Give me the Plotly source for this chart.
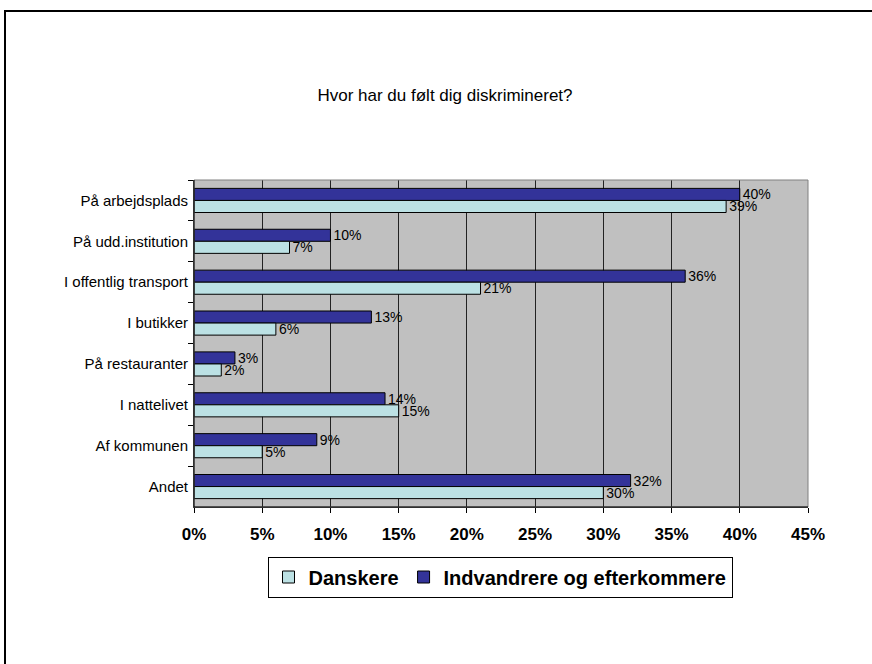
import plotly.graph_objects as go

categories = ["På arbejdsplads", "På udd.institution", "I offentlig transport", "I butikker",
              "På restauranter", "I nattelivet", "Af kommunen", "Andet"]
danskere = [39, 7, 21, 6, 2, 15, 5, 30]
indvandrere = [40, 10, 36, 13, 3, 14, 9, 32]
x_ticks = [0, 5, 10, 15, 20, 25, 30, 35, 40, 45]

FONT = "Liberation Sans, Arial, sans-serif"

fig = go.Figure()
fig.add_trace(go.Bar(
    y=categories, x=indvandrere, orientation="h", name="Indvandrere og efterkommere",
    marker=dict(color="#333399", line=dict(color="#000000", width=1)),
    text=[f"{v}%" for v in indvandrere], textposition="outside", cliponaxis=False,
    constraintext="none",
    textfont=dict(family=FONT, size=14, color="#000000"),
))
fig.add_trace(go.Bar(
    y=categories, x=danskere, orientation="h", name="Danskere",
    marker=dict(color="#BCE1E4", line=dict(color="#000000", width=1)),
    text=[f"{v}%" for v in danskere], textposition="outside", cliponaxis=False,
    constraintext="none",
    textfont=dict(family=FONT, size=14, color="#000000"),
))

W, H = 872, 664
L, R, T, B = 194, 64, 180, 157
pw, ph = W - L - R, H - T - B

def px_x(p):
    return (p - L) / pw

def px_y(p):
    return (H - B - p) / ph

fig.update_layout(
    width=W, height=H,
    margin=dict(l=L, r=R, t=T, b=B),
    paper_bgcolor="#FFFFFF",
    plot_bgcolor="#C0C0C0",
    barmode="group",
    bargap=0.41,
    bargroupgap=0,
    font=dict(family=FONT, size=12, color="#000000"),
    title=dict(text="Hvor har du følt dig diskrimineret?", x=px_x(445), xref="paper",
               xanchor="center", y=1 - 95 / H, yref="container", yanchor="middle",
               font=dict(family=FONT, size=17, color="#000000")),
    showlegend=True,
    legend=dict(orientation="h", traceorder="reversed",
                x=px_x(500), xanchor="center", y=px_y(577), yanchor="middle",
                bgcolor="#FFFFFF", bordercolor="#000000", borderwidth=1,
                font=dict(family=FONT, size=20, color="#000000", weight="bold"),
                itemwidth=30),
    xaxis=dict(range=[0, 45], tickvals=x_ticks, ticktext=[f"{v}%" for v in x_ticks],
               showgrid=True, gridcolor="#222222", gridwidth=1,
               zeroline=False, showline=True, linecolor="#404040", linewidth=1,
               ticks="outside", ticklen=5, tickcolor="#000000",
               tickfont=dict(family=FONT, size=17, color="#000000", weight="bold"),
               ticklabelstandoff=7, fixedrange=True),
    yaxis=dict(autorange="reversed", showgrid=False, zeroline=False,
               showline=True, linecolor="#404040", linewidth=1,
               ticks="outside", ticklen=5, tickcolor="#000000", tickson="boundaries",
               tickfont=dict(family=FONT, size=15, color="#000000"),
               ticklabelstandoff=2, fixedrange=True),
    shapes=[
        dict(type="rect", xref="paper", yref="paper", x0=0, x1=1, y0=0, y1=1,
             line=dict(color="#808080", width=1), layer="above"),
        dict(type="line", xref="paper", yref="paper", x0=0, x1=0, y0=0, y1=1,
             line=dict(color="#000000", width=1), layer="above"),
        dict(type="line", xref="paper", yref="paper", x0=0, x1=1, y0=0, y1=0,
             line=dict(color="#000000", width=1), layer="above"),
        dict(type="rect", xref="paper", yref="paper",
             x0=px_x(5), x1=px_x(890), y0=px_y(690), y1=px_y(11),
             line=dict(color="#000000", width=2)),
    ],
)

fig.write_html("out.html", config={"displayModeBar": False},
               post_script="document.body.style.margin='0px';")
